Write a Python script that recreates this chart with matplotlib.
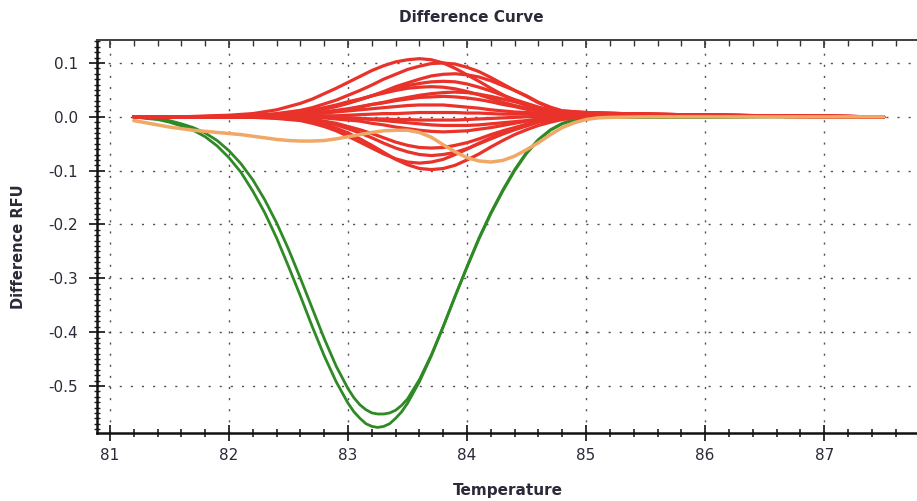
import matplotlib
matplotlib.use("Agg")
import matplotlib.pyplot as plt
from matplotlib.ticker import MultipleLocator, FormatStrFormatter

plt.rcParams['font.family'] = ['DejaVu Sans']
plt.rcParams['axes.unicode_minus'] = False

# ---------------- data ----------------
fine_temp = [81.2, 81.3, 81.4, 81.5, 81.6, 81.7, 81.8, 81.9, 82.0, 82.1,
             82.2, 82.3, 82.4, 82.5, 82.6, 82.7, 82.8, 82.9, 83.0, 83.1,
             83.2, 83.3, 83.4, 83.5, 83.6, 83.7, 83.8, 83.9, 84.0, 84.1,
             84.2, 84.3, 84.4, 84.5, 84.6, 84.7, 84.8, 84.9, 85.0, 85.1,
             85.2, 85.5, 86.0, 86.5, 87.0, 87.5]

green_temp = [81.2, 81.3, 81.4, 81.5, 81.6, 81.7, 81.8, 81.9, 82.0, 82.1,
              82.2, 82.3, 82.4, 82.5, 82.6, 82.7, 82.8, 82.9, 83.0, 83.05,
              83.1, 83.15, 83.2, 83.25, 83.3, 83.35, 83.4, 83.45, 83.5, 83.6,
              83.7, 83.8, 83.9, 84.0, 84.1, 84.2, 84.3, 84.4, 84.5, 84.6,
              84.7, 84.8, 84.9, 85.0, 85.1, 85.2, 85.5, 86.0, 86.5, 87.0, 87.5]

green_a = [0.000, -0.003, -0.005, -0.010, -0.017, -0.025, -0.037, -0.054, -0.076, -0.103,
           -0.138, -0.178, -0.225, -0.278, -0.333, -0.390, -0.444, -0.492, -0.532, -0.548,
           -0.560, -0.570, -0.575, -0.577, -0.575, -0.570, -0.560, -0.548, -0.532, -0.492,
           -0.444, -0.390, -0.333, -0.278, -0.225, -0.178, -0.136, -0.098, -0.066, -0.042,
           -0.024, -0.012, -0.005, -0.002, -0.001, -0.001, -0.001, -0.001, 0.000, 0.000,
           0.000]

green_b = [0.000, -0.002, -0.004, -0.007, -0.013, -0.020, -0.030, -0.044, -0.063, -0.087,
           -0.117, -0.154, -0.197, -0.246, -0.300, -0.356, -0.412, -0.463, -0.505, -0.522,
           -0.535, -0.544, -0.550, -0.552, -0.552, -0.550, -0.545, -0.536, -0.524, -0.488,
           -0.442, -0.389, -0.333, -0.279, -0.227, -0.180, -0.138, -0.100, -0.068, -0.043,
           -0.025, -0.013, -0.006, -0.002, -0.001, -0.001, -0.001, -0.001, 0.000, 0.000,
           0.000]

orange = [-0.007, -0.011, -0.015, -0.019, -0.022, -0.025, -0.027, -0.029, -0.031, -0.033,
          -0.036, -0.039, -0.042, -0.044, -0.045, -0.045, -0.044, -0.041, -0.037, -0.033,
          -0.029, -0.026, -0.025, -0.025, -0.029, -0.038, -0.052, -0.065, -0.076, -0.082,
          -0.084, -0.081, -0.073, -0.061, -0.048, -0.033, -0.020, -0.011, -0.005, -0.002,
          -0.001, 0.000, 0.000, 0.000, 0.000, 0.000]

red_temp = [81.2, 81.6, 82.0, 82.2, 82.4, 82.6, 82.7, 82.8, 82.9, 83.0,
            83.1, 83.2, 83.3, 83.4, 83.5, 83.6, 83.7, 83.8, 83.9, 84.0,
            84.1, 84.2, 84.3, 84.4, 84.5, 84.6, 84.7, 84.8, 85.0, 85.3,
            85.8, 86.5, 87.0, 87.5]

red_01 = [0, 0, 0.003, 0.006, 0.013, 0.025, 0.033, 0.043, 0.053, 0.064,
          0.075, 0.086, 0.095, 0.102, 0.106, 0.108, 0.106, 0.100, 0.090, 0.078,
          0.066, 0.053, 0.041, 0.030, 0.021, 0.015, 0.010, 0.008, 0.007, 0.006,
          0.004, 0.002, 0.001, 0.000]
red_02 = [0, 0, 0.001, 0.002, 0.006, 0.012, 0.017, 0.024, 0.031, 0.040,
          0.049, 0.059, 0.070, 0.079, 0.088, 0.094, 0.099, 0.100, 0.098, 0.092,
          0.084, 0.073, 0.061, 0.049, 0.038, 0.026, 0.017, 0.011, 0.008, 0.006,
          0.004, 0.002, 0.001, 0.000]
red_03 = [0, 0, 0.000, 0.001, 0.003, 0.007, 0.010, 0.014, 0.019, 0.025,
          0.032, 0.039, 0.047, 0.056, 0.063, 0.070, 0.076, 0.079, 0.080, 0.078,
          0.074, 0.067, 0.058, 0.049, 0.039, 0.027, 0.018, 0.011, 0.008, 0.006,
          0.004, 0.002, 0.001, 0.000]
red_04 = [0, 0, 0.001, 0.002, 0.004, 0.008, 0.011, 0.016, 0.020, 0.026,
          0.032, 0.039, 0.046, 0.052, 0.058, 0.062, 0.065, 0.066, 0.065, 0.061,
          0.055, 0.048, 0.040, 0.032, 0.025, 0.018, 0.013, 0.010, 0.007, 0.006,
          0.004, 0.002, 0.001, 0.000]
red_05 = [0, 0, 0.001, 0.002, 0.005, 0.010, 0.013, 0.017, 0.022, 0.028,
          0.033, 0.039, 0.044, 0.049, 0.053, 0.055, 0.056, 0.055, 0.052, 0.047,
          0.041, 0.034, 0.027, 0.021, 0.016, 0.012, 0.009, 0.008, 0.007, 0.005,
          0.004, 0.002, 0.001, 0.000]
red_06 = [0, 0, 0.000, 0.001, 0.002, 0.004, 0.006, 0.008, 0.011, 0.014,
          0.018, 0.023, 0.027, 0.032, 0.036, 0.040, 0.043, 0.045, 0.046, 0.045,
          0.042, 0.038, 0.033, 0.028, 0.022, 0.017, 0.012, 0.009, 0.006, 0.005,
          0.003, 0.002, 0.001, 0.000]
red_07 = [0, 0, 0.000, 0.001, 0.002, 0.005, 0.007, 0.009, 0.012, 0.015,
          0.019, 0.023, 0.026, 0.030, 0.033, 0.036, 0.037, 0.038, 0.037, 0.035,
          0.032, 0.028, 0.023, 0.019, 0.014, 0.011, 0.009, 0.007, 0.006, 0.005,
          0.003, 0.002, 0.001, 0.000]
red_08 = [0, 0, 0.000, 0.001, 0.002, 0.004, 0.005, 0.007, 0.009, 0.011,
          0.013, 0.015, 0.017, 0.019, 0.021, 0.022, 0.022, 0.022, 0.020, 0.018,
          0.016, 0.013, 0.011, 0.009, 0.008, 0.007, 0.006, 0.006, 0.005, 0.004,
          0.003, 0.002, 0.001, 0.000]
red_09 = [0, 0, 0, 0, 0.000, 0.001, 0.001, 0.002, 0.002, 0.003,
          0.004, 0.005, 0.006, 0.006, 0.007, 0.008, 0.008, 0.008, 0.008, 0.007,
          0.007, 0.006, 0.005, 0.005, 0.005, 0.005, 0.005, 0.005, 0.005, 0.004,
          0.003, 0.002, 0.001, 0.000]
red_10 = [0, 0, 0, 0, 0, -0.001, -0.001, -0.001, -0.002, -0.002,
          -0.003, -0.004, -0.004, -0.005, -0.005, -0.006, -0.006, -0.006, -0.006, -0.005,
          -0.004, -0.003, -0.002, -0.001, 0.000, 0.001, 0.002, 0.003, 0.004, 0.004,
          0.003, 0.002, 0.001, 0.000]
red_11 = [0, 0, 0, 0, 0, 0.000, 0.000, -0.001, -0.001, -0.002,
          -0.003, -0.005, -0.007, -0.009, -0.011, -0.013, -0.015, -0.016, -0.016, -0.016,
          -0.015, -0.013, -0.011, -0.009, -0.007, -0.004, -0.002, 0.000, 0.002, 0.003,
          0.002, 0.001, 0.001, 0.000]
red_12 = [0, 0, 0, 0, 0.000, -0.001, -0.001, -0.002, -0.004, -0.006,
          -0.008, -0.012, -0.015, -0.019, -0.022, -0.025, -0.027, -0.028, -0.027, -0.026,
          -0.023, -0.020, -0.016, -0.012, -0.008, -0.005, -0.002, 0.000, 0.002, 0.003,
          0.002, 0.001, 0.000, 0.000]
red_13 = [0, 0, 0, 0.000, -0.001, -0.003, -0.005, -0.008, -0.012, -0.018,
          -0.024, -0.031, -0.039, -0.047, -0.053, -0.057, -0.058, -0.057, -0.053, -0.048,
          -0.041, -0.033, -0.026, -0.020, -0.014, -0.008, -0.005, -0.002, 0.001, 0.002,
          0.002, 0.001, 0.000, 0.000]
red_14 = [0, 0, 0, 0.000, -0.001, -0.004, -0.006, -0.010, -0.015, -0.022,
          -0.030, -0.039, -0.049, -0.058, -0.065, -0.070, -0.072, -0.070, -0.066, -0.059,
          -0.050, -0.041, -0.032, -0.024, -0.017, -0.010, -0.006, -0.003, 0.001, 0.002,
          0.002, 0.001, 0.000, 0.000]
red_15 = [0, 0, 0.000, -0.001, -0.003, -0.007, -0.012, -0.018, -0.026, -0.036,
          -0.047, -0.058, -0.069, -0.078, -0.084, -0.086, -0.084, -0.079, -0.070, -0.060,
          -0.049, -0.039, -0.029, -0.021, -0.014, -0.008, -0.005, -0.002, 0.001, 0.002,
          0.002, 0.001, 0.000, 0.000]
red_16 = [0, 0, 0.000, 0.000, -0.002, -0.005, -0.009, -0.014, -0.021, -0.030,
          -0.041, -0.053, -0.066, -0.079, -0.089, -0.096, -0.098, -0.096, -0.090, -0.080,
          -0.069, -0.056, -0.044, -0.033, -0.024, -0.016, -0.010, -0.005, 0.000, 0.002,
          0.001, 0.001, 0.000, 0.000]

red_series = [red_01, red_02, red_03, red_04, red_05, red_06, red_07, red_08,
              red_09, red_10, red_11, red_12, red_13, red_14, red_15, red_16]

x_ticks = [81, 82, 83, 84, 85, 86, 87]
y_ticks = [-0.5, -0.4, -0.3, -0.2, -0.1, 0.0, 0.1]

# ---------------- styling ----------------
RED = '#e8322a'
GREEN = '#2f8a26'
ORANGE = '#f0a866'
TXT = '#2a2a38'

fig = plt.figure(figsize=(9.17, 5.01), dpi=100)
ax = fig.add_axes([97 / 917, 1 - 433 / 501, 1 - 97 / 917, (433 - 40) / 501])

ax.plot(green_temp, green_a, color=GREEN, lw=2.0, solid_capstyle='round',
        solid_joinstyle='round', zorder=3)
ax.plot(green_temp, green_b, color=GREEN, lw=2.0, solid_capstyle='round',
        solid_joinstyle='round', zorder=3)
for s in red_series:
    ax.plot(red_temp, s, color=RED, lw=2.3, solid_capstyle='round',
            solid_joinstyle='round', zorder=4)
ax.plot(fine_temp, orange, color=ORANGE, lw=2.5, solid_capstyle='round',
        solid_joinstyle='round', zorder=5)

ax.set_xlim(80.891, 87.78)
ax.set_ylim(-0.5873, 0.1427)

ax.set_xticks(x_ticks)
ax.set_yticks(y_ticks)
ax.xaxis.set_minor_locator(MultipleLocator(0.2))
ax.yaxis.set_minor_locator(MultipleLocator(0.01))
ax.yaxis.set_major_formatter(FormatStrFormatter('%.1f'))
ax.xaxis.set_major_formatter(FormatStrFormatter('%d'))

ax.tick_params(axis='both', which='major', direction='inout', length=11, width=1.3,
               color='#222222', labelsize=11, labelcolor=TXT)
ax.tick_params(axis='x', which='minor', direction='inout', length=6, width=1.2, color='#222222')
ax.tick_params(axis='y', which='minor', direction='inout', length=5, width=1.0, color='#222222')
ax.tick_params(axis='y', which='major', pad=8)
ax.tick_params(axis='x', which='major', pad=5)

for side in ['left', 'bottom']:
    ax.spines[side].set_linewidth(1.8)
    ax.spines[side].set_color('#111111')
ax.spines['right'].set_visible(False)
ax.spines['top'].set_linewidth(1.4)
ax.spines['top'].set_color('#444444')

sec = ax.secondary_xaxis('top')
sec.set_xticks(x_ticks)
sec.xaxis.set_minor_locator(MultipleLocator(0.2))
sec.tick_params(axis='x', which='major', direction='in', length=6, width=1.2,
                color='#333333', labeltop=False)
sec.tick_params(axis='x', which='minor', direction='in', length=4, width=1.0, color='#333333')
sec.spines['top'].set_linewidth(1.4)
sec.spines['top'].set_color('#444444')

ax.grid(True, which='major', color='#333333', linewidth=1.0,
        linestyle=(0, (1.5, 6.5)), alpha=0.85)
ax.set_axisbelow(True)

fig.text(471 / 917, 1 - 18 / 501, 'Difference Curve', ha='center', va='center',
         fontsize=11, fontweight='bold', color=TXT)
fig.text(508 / 917, 1 - 490 / 501, 'Temperature', ha='center', va='center',
         fontsize=11, fontweight='bold', color=TXT)
fig.text(19 / 917, 1 - 247 / 501, 'Difference RFU', ha='center', va='center',
         rotation=90, fontsize=10.5, fontweight='bold', color=TXT)

fig.savefig('out.png', dpi=100)
